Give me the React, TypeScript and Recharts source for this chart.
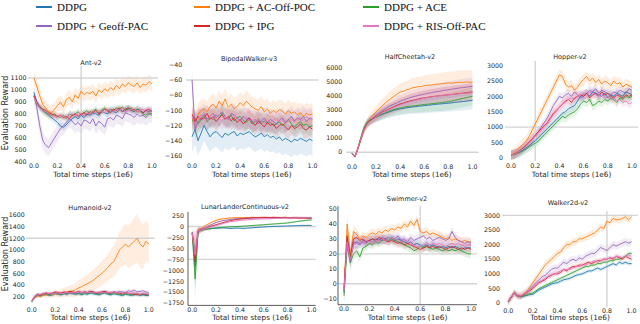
import React from 'react';
import { ComposedChart, Line, Area, XAxis, YAxis, ReferenceLine } from 'recharts';

// ---------- shared categories ----------
const X = [0, 0.025, 0.05, 0.075, 0.1, 0.125, 0.15, 0.175, 0.2, 0.225, 0.25, 0.275, 0.3, 0.325, 0.35, 0.375, 0.4, 0.425, 0.45, 0.475, 0.5, 0.525, 0.55, 0.575, 0.6, 0.625, 0.65, 0.675, 0.7, 0.725, 0.75, 0.775, 0.8, 0.825, 0.85, 0.875, 0.9, 0.925, 0.95, 0.975, 1.0];
const X_TICKS = [0, 0.2, 0.4, 0.6, 0.8, 1.0];
const SERIES = ['DDPG', 'DDPG + AC-Off-POC', 'DDPG + ACE', 'DDPG + Geoff-PAC', 'DDPG + IPG', 'DDPG + RIS-Off-PAC'];
const COLORS = ['#1f77b4', '#ff7f0e', '#2ca02c', '#9467bd', '#d62728', '#e377c2'];
const LEGEND_ORDER = [0, 1, 2, 3, 4, 5];

// ---------- Ant-v2 ----------
const antMeans = [
  [980, 900, 860, 830, 810, 790, 770, 750, 730, 700, 690, 710, 740, 760, 780, 760, 790, 770, 800, 790, 810, 800, 790, 820, 810, 800, 830, 820, 810, 840, 820, 830, 850, 830, 820, 840, 830, 810, 830, 820, 830],
  [1100, 1030, 950, 880, 850, 820, 810, 840, 870, 900, 860, 920, 940, 900, 960, 930, 990, 960, 980, 970, 990, 950, 1000, 980, 1010, 990, 1020, 1000, 1040, 1010, 1050, 1030, 1060, 1040, 1030, 1060, 1020, 1050, 1040, 1070, 1050],
  [950, 880, 850, 830, 810, 800, 790, 800, 780, 770, 790, 760, 800, 790, 800, 820, 790, 810, 830, 800, 820, 840, 810, 830, 850, 820, 840, 830, 850, 840, 860, 830, 840, 850, 820, 840, 830, 800, 790, 810, 800],
  [960, 850, 700, 580, 540, 520, 560, 600, 640, 680, 700, 730, 760, 740, 710, 730, 700, 750, 740, 720, 760, 700, 740, 720, 690, 760, 770, 750, 790, 780, 760, 810, 800, 790, 770, 800, 780, 790, 770, 800, 790],
  [950, 900, 860, 840, 830, 810, 800, 790, 780, 790, 770, 780, 760, 790, 800, 780, 800, 810, 790, 820, 810, 830, 800, 820, 840, 830, 810, 840, 830, 850, 820, 840, 850, 830, 840, 820, 830, 810, 830, 840, 820],
  [940, 890, 850, 830, 820, 800, 790, 780, 770, 790, 780, 770, 790, 800, 780, 810, 800, 790, 810, 800, 820, 810, 830, 820, 810, 840, 830, 820, 840, 830, 850, 820, 830, 840, 830, 820, 830, 840, 820, 810, 830],
];
const antSpread = [30, 60, 30, 70, 25, 25];
const antTicks = [400, 500, 600, 700, 800, 900, 1000, 1100];

// ---------- BipedalWalker-v3 ----------
const bipedalMeans = [
  [-135, -125, -140, -130, -120, -128, -135, -130, -128, -132, -136, -130, -133, -130, -128, -134, -130, -132, -130, -128, -132, -135, -133, -130, -135, -132, -136, -134, -138, -135, -140, -137, -139, -142, -138, -140, -137, -139, -141, -138, -140],
  [-110, -120, -105, -100, -98, -102, -95, -92, -97, -88, -94, -85, -96, -92, -98, -95, -90, -94, -88, -92, -96, -98, -100, -95, -102, -98, -104, -100, -103, -99, -101, -105, -100, -104, -102, -106, -103, -108, -104, -106, -105],
  [-115, -110, -118, -112, -108, -115, -110, -112, -106, -110, -104, -108, -112, -106, -114, -110, -108, -113, -116, -112, -118, -115, -112, -117, -114, -118, -116, -120, -118, -115, -120, -117, -112, -118, -122, -118, -115, -120, -118, -122, -120],
  [-60, -125, -115, -110, -105, -112, -108, -104, -110, -106, -102, -108, -112, -104, -106, -110, -114, -108, -112, -110, -115, -112, -118, -114, -110, -116, -112, -115, -118, -113, -110, -116, -112, -108, -114, -110, -112, -108, -115, -110, -112],
  [-105, -115, -108, -112, -110, -104, -112, -108, -115, -110, -106, -112, -108, -114, -110, -116, -112, -118, -114, -110, -116, -120, -114, -118, -122, -116, -120, -118, -124, -120, -118, -122, -126, -120, -124, -122, -118, -124, -126, -122, -125],
  [-108, -118, -112, -106, -110, -114, -108, -112, -106, -110, -114, -108, -112, -110, -106, -112, -115, -110, -108, -114, -112, -116, -110, -114, -118, -112, -116, -114, -110, -116, -112, -118, -114, -112, -116, -110, -114, -112, -108, -112, -110],
];
const bipedalSpread = [20, 14, 12, 14, 12, 12];
const bipedalTicks = [-160, -140, -120, -100, -80, -60, -40];

// ---------- HalfCheetah-v2 ----------
const cheetahMeans = [
  [-100, -320, 300, 1000, 1650, 2050, 2250, 2400, 2500, 2600, 2700, 2780, 2850, 2920, 3000, 3050, 3100, 3130, 3170, 3200, 3230, 3250, 3280, 3300, 3320, 3350, 3370, 3400, 3420, 3440, 3460, 3480, 3500, 3520, 3550, 3580, 3600, 3620, 3650, 3680, 3700],
  [-100, -320, 250, 950, 1600, 2000, 2400, 2650, 2900, 3100, 3300, 3500, 3700, 3850, 4000, 4150, 4300, 4350, 4450, 4500, 4600, 4620, 4680, 4700, 4750, 4780, 4800, 4820, 4850, 4870, 4900, 4920, 4950, 4930, 4960, 4980, 5000, 4980, 5020, 5000, 5000],
  [-100, -320, 350, 1100, 1800, 2150, 2300, 2400, 2500, 2600, 2700, 2800, 2900, 2980, 3050, 3100, 3150, 3200, 3250, 3280, 3300, 3320, 3350, 3380, 3400, 3430, 3450, 3480, 3500, 3530, 3550, 3580, 3600, 3650, 3700, 3750, 3800, 3850, 3900, 3950, 4000],
  [-100, -320, 300, 1000, 1600, 2000, 2250, 2450, 2650, 2800, 2950, 3100, 3250, 3350, 3450, 3550, 3650, 3720, 3800, 3870, 3950, 4000, 4050, 4100, 4150, 4200, 4230, 4280, 4320, 4350, 4400, 4430, 4460, 4500, 4530, 4560, 4600, 4620, 4650, 4680, 4700],
  [-100, -320, 300, 1000, 1650, 2050, 2250, 2400, 2550, 2700, 2850, 2950, 3050, 3150, 3250, 3350, 3450, 3500, 3580, 3650, 3700, 3750, 3800, 3850, 3880, 3920, 3950, 3980, 4000, 4030, 4050, 4080, 4100, 4120, 4150, 4180, 4200, 4220, 4250, 4280, 4300],
  [-100, -320, 300, 1000, 1600, 2000, 2200, 2350, 2500, 2650, 2800, 2900, 3000, 3100, 3200, 3300, 3380, 3450, 3520, 3600, 3650, 3700, 3750, 3800, 3850, 3900, 3930, 3970, 4000, 4030, 4050, 4080, 4100, 4120, 4140, 4160, 4180, 4200, 4220, 4230, 4250],
];
const cheetahSpreadWide = [50, 100, 150, 250, 300, 350, 400, 420, 450, 480, 500, 520, 540, 560, 580, 600, 620, 640, 660, 680, 700, 710, 720, 730, 740, 750, 760, 770, 780, 790, 800, 800, 810, 820, 830, 840, 850, 850, 860, 860, 870];
const cheetahSpread = [50, 100, 150, 200, 250, 280, 300, 320, 340, 360, 380, 400, 410, 420, 430, 440, 450, 460, 470, 480, 490, 500, 510, 520, 530, 540, 550, 560, 570, 580, 590, 600, 600, 610, 610, 620, 620, 630, 630, 640, 640];
const cheetahTicks = [0, 1000, 2000, 3000, 4000, 5000, 6000];

// ---------- Hopper-v2 ----------
const hopperMeans = [
  [100, 110, 150, 200, 260, 330, 400, 480, 560, 650, 750, 850, 950, 1050, 1150, 1250, 1350, 1450, 1500, 1600, 1650, 1700, 1850, 2000, 2050, 2100, 2000, 2150, 2100, 2050, 2000, 2100, 1950, 2050, 2000, 2100, 2050, 2000, 2150, 2100, 2050],
  [100, 150, 250, 350, 450, 550, 700, 900, 1100, 1300, 1500, 1700, 1900, 2100, 2300, 2500, 2700, 2650, 2400, 2300, 2350, 2200, 2300, 2450, 2550, 2650, 2500, 2600, 2450, 2550, 2400, 2500, 2450, 2350, 2500, 2400, 2450, 2300, 2400, 2350, 2300],
  [100, 100, 140, 180, 230, 290, 350, 420, 480, 550, 650, 750, 850, 950, 1050, 1150, 1250, 1350, 1300, 1400, 1450, 1500, 1600, 1750, 1850, 1800, 1900, 1700, 1750, 1850, 1800, 1900, 1850, 1950, 1900, 1800, 1950, 1900, 2000, 1950, 2000],
  [100, 120, 180, 250, 320, 400, 500, 600, 700, 850, 1000, 1150, 1300, 1500, 1700, 1850, 2000, 1950, 2050, 2100, 2000, 2150, 2050, 1950, 2000, 2100, 2200, 2150, 2250, 2100, 2200, 2150, 2100, 2050, 2150, 2100, 2200, 2150, 2100, 2250, 2200],
  [100, 120, 170, 240, 320, 420, 520, 620, 750, 850, 950, 1050, 1150, 1300, 1450, 1550, 1650, 1750, 1850, 1900, 1800, 1950, 2000, 2050, 2000, 2100, 1950, 2050, 2100, 2000, 2150, 2050, 2100, 2000, 1950, 2050, 2000, 1950, 2050, 2000, 2050],
  [100, 110, 160, 230, 300, 400, 500, 600, 700, 800, 900, 1000, 1100, 1250, 1400, 1500, 1650, 1750, 1800, 1900, 1950, 1900, 2000, 2050, 2100, 2000, 2150, 2100, 2050, 2000, 2100, 1950, 2000, 1900, 1950, 1850, 1900, 1800, 1850, 1750, 1800],
];
const hopperSpread = [150, 180, 150, 150, 150, 150];
const hopperTicks = [0, 500, 1000, 1500, 2000, 2500, 3000];

// ---------- Humanoid-v2 ----------
const humanoidMeans = [
  [120, 190, 220, 210, 230, 240, 220, 230, 250, 240, 230, 250, 240, 260, 250, 240, 250, 230, 250, 240, 260, 250, 240, 230, 250, 260, 240, 230, 250, 240, 230, 220, 240, 230, 220, 230, 240, 220, 230, 220, 220],
  [120, 180, 210, 200, 230, 220, 240, 230, 250, 240, 260, 270, 280, 290, 300, 320, 350, 370, 400, 420, 450, 480, 520, 560, 600, 650, 700, 760, 800, 900, 1000, 1050, 1100, 1050, 1100, 1150, 1200, 1100, 1050, 1150, 1100],
  [110, 200, 230, 220, 240, 250, 230, 240, 260, 250, 240, 260, 250, 270, 260, 250, 260, 240, 260, 250, 270, 260, 250, 240, 260, 270, 250, 240, 260, 250, 240, 230, 250, 240, 230, 240, 250, 230, 240, 230, 230],
  [120, 200, 240, 230, 250, 260, 240, 250, 270, 260, 250, 270, 260, 280, 270, 260, 280, 260, 280, 270, 290, 280, 270, 260, 280, 290, 270, 260, 280, 270, 290, 280, 270, 300, 290, 310, 280, 290, 300, 280, 270],
  [130, 210, 240, 230, 250, 260, 250, 260, 280, 270, 260, 280, 270, 290, 280, 270, 290, 270, 280, 270, 290, 280, 260, 270, 280, 290, 270, 260, 280, 270, 260, 250, 270, 260, 250, 240, 230, 240, 250, 240, 230],
  [120, 210, 230, 240, 250, 240, 260, 250, 260, 270, 250, 260, 270, 260, 270, 260, 280, 270, 260, 270, 280, 260, 270, 280, 270, 260, 270, 280, 260, 270, 280, 260, 270, 250, 260, 270, 250, 240, 260, 250, 240],
];
const humanoidOrangeSpread = [10, 20, 30, 30, 40, 40, 50, 50, 60, 60, 70, 80, 90, 100, 110, 120, 130, 140, 150, 160, 170, 180, 190, 200, 210, 220, 230, 250, 270, 290, 310, 330, 350, 370, 380, 400, 420, 400, 380, 350, 330];
const humanoidTicks = [200, 400, 600, 800, 1000, 1200, 1400, 1600];

// ---------- LunarLanderContinuous-v2 ----------
const lunarMeans = [
  [-130, -900, -100, -80, -70, -60, -50, -45, -40, -35, -30, -35, -40, -45, -40, -35, -40, -45, -40, -35, -30, -25, -20, -15, -10, -5, -5, 0, 0, 5, 5, 10, 10, 15, 15, 20, 20, 25, 20, 25, 20],
  [-150, -700, -80, -40, 0, 40, 80, 110, 140, 160, 170, 180, 190, 195, 200, 200, 205, 200, 205, 200, 210, 205, 200, 205, 210, 205, 200, 210, 205, 200, 205, 210, 205, 200, 205, 210, 205, 200, 205, 200, 200],
  [-160, -1200, -120, -90, -70, -60, -50, -40, -30, -25, -20, -15, -10, -5, -5, 0, 0, 5, 10, 15, 20, 25, 30, 35, 40, 45, 50, 55, 60, 65, 70, 75, 80, 90, 100, 110, 120, 130, 140, 145, 150],
  [-150, -600, -90, -60, -30, 0, 30, 60, 90, 110, 130, 140, 150, 160, 170, 175, 180, 185, 190, 190, 195, 195, 200, 200, 200, 205, 200, 205, 200, 205, 200, 205, 200, 200, 205, 200, 200, 205, 200, 200, 200],
  [-140, -800, -100, -80, -60, -30, 0, 20, 40, 60, 80, 100, 120, 135, 150, 160, 170, 175, 185, 190, 195, 200, 200, 205, 200, 205, 200, 200, 205, 200, 195, 200, 195, 190, 195, 190, 185, 190, 185, 180, 185],
  [-150, -650, -100, -80, -60, -40, -20, 0, 20, 40, 60, 80, 100, 110, 120, 130, 140, 145, 150, 155, 160, 165, 170, 170, 175, 175, 180, 180, 185, 185, 190, 190, 190, 195, 190, 195, 190, 195, 190, 195, 190],
];
const lunarSpread = [40, 500, 80, 50, 40, 30, 30, 25, 25, 25, 25, 20, 20, 20, 20, 20, 20, 20, 20, 20, 20, 20, 20, 20, 20, 20, 20, 20, 20, 20, 20, 20, 20, 20, 20, 20, 20, 20, 20, 20, 20];
const lunarTicks = [-1750, -1500, -1250, -1000, -750, -500, -250, 0, 250];

// ---------- Swimmer-v2 ----------
const swimmerMeans = [
  [-6, 30, 17, 27, 28, 27, 29, 28, 29, 30, 29, 30, 29, 30, 31, 30, 29, 30, 29, 28, 27, 28, 26, 27, 26, 25, 26, 25, 26, 25, 24, 25, 24, 25, 24, 25, 24, 23, 24, 24, 24],
  [-5, 40, 20, 35, 33, 30, 32, 31, 33, 34, 33, 35, 34, 36, 35, 37, 36, 38, 37, 40, 38, 42, 39, 43, 35, 34, 35, 33, 34, 33, 32, 31, 30, 31, 29, 30, 29, 28, 29, 28, 28],
  [-8, 25, 14, 20, 22, 18, 24, 25, 27, 26, 28, 27, 29, 30, 29, 30, 29, 28, 27, 26, 25, 24, 22, 23, 25, 24, 25, 24, 23, 24, 23, 22, 23, 22, 23, 22, 23, 22, 21, 20, 20],
  [-5, 30, 15, 28, 27, 26, 28, 27, 29, 28, 30, 29, 31, 30, 29, 31, 30, 32, 29, 30, 28, 31, 29, 30, 31, 32, 30, 31, 29, 30, 31, 30, 29, 30, 35, 31, 29, 28, 27, 28, 27],
  [-3, 32, 18, 30, 31, 29, 30, 28, 29, 30, 29, 31, 30, 29, 28, 29, 28, 27, 28, 26, 27, 26, 25, 24, 23, 24, 25, 24, 25, 24, 25, 24, 23, 24, 25, 24, 23, 24, 23, 24, 23],
  [-4, 28, 16, 26, 27, 28, 27, 29, 28, 27, 29, 28, 30, 29, 31, 30, 30, 29, 28, 29, 28, 27, 26, 25, 25, 26, 27, 26, 27, 26, 27, 26, 25, 26, 27, 26, 27, 26, 25, 26, 26],
];
const swimmerSpread = [6, 6, 5, 4, 4, 3, 3, 3, 3, 3, 3, 3, 3, 3, 3, 3, 3, 3, 3, 3, 3, 3, 3, 3, 3, 3, 3, 3, 3, 3, 3, 3, 3, 3, 3, 3, 3, 3, 3, 3, 3];
const swimmerTicks = [-10, 0, 10, 20, 30, 40, 50];

// ---------- Walker2d-v2 ----------
const walkerMeans = [
  [50, 200, 350, 250, 220, 240, 260, 290, 300, 380, 450, 500, 550, 600, 650, 680, 700, 750, 800, 820, 850, 900, 950, 980, 1000, 1050, 1100, 1100, 1150, 1200, 1150, 1200, 1250, 1300, 1350, 1300, 1400, 1350, 1400, 1350, 1350],
  [50, 200, 350, 250, 250, 320, 400, 550, 700, 850, 1000, 1150, 1300, 1400, 1500, 1600, 1700, 1750, 1900, 2000, 2000, 2100, 2100, 2200, 2200, 2250, 2300, 2350, 2400, 2500, 2600, 2550, 2800, 2750, 2900, 2850, 2850, 2900, 2950, 2850, 2950],
  [50, 200, 350, 250, 220, 250, 280, 320, 350, 420, 500, 550, 600, 650, 700, 750, 800, 850, 900, 950, 1000, 1050, 1100, 1150, 1200, 1250, 1250, 1300, 1300, 1350, 1350, 1400, 1400, 1450, 1450, 1500, 1500, 1550, 1600, 1700, 1700],
  [50, 200, 350, 250, 240, 300, 380, 480, 600, 700, 800, 900, 950, 1050, 1150, 1200, 1200, 1300, 1400, 1350, 1450, 1500, 1450, 1550, 1500, 1600, 1650, 1700, 1700, 1800, 1900, 1850, 1800, 1900, 2000, 1950, 2000, 2050, 2100, 2050, 2100],
  [50, 200, 350, 250, 230, 280, 350, 420, 500, 600, 700, 750, 800, 900, 950, 1000, 1000, 1050, 1150, 1100, 1200, 1250, 1250, 1300, 1300, 1350, 1400, 1350, 1400, 1450, 1450, 1500, 1500, 1550, 1500, 1600, 1550, 1500, 1600, 1550, 1500],
  [50, 200, 350, 250, 240, 290, 360, 440, 550, 650, 720, 780, 850, 920, 980, 1000, 1050, 1100, 1150, 1150, 1150, 1200, 1250, 1250, 1300, 1300, 1350, 1400, 1450, 1400, 1450, 1500, 1500, 1550, 1550, 1600, 1600, 1550, 1600, 1650, 1600],
];
const walkerSpread = [70, 130, 70, 130, 80, 80];
const walkerTicks = [0, 500, 1000, 1500, 2000, 2500, 3000];

// ---------- layout (positions/styles only) ----------
type Spread = number | number[];
interface PanelCfg {
  title: string;
  means: number[][];
  spreads: Spread[];
  yTicks: number[];
  xDomain: [number, number];
  yDomain: [number, number];
  left: number; right: number; top: number; bottom: number;
  refH: number[]; refV: number[];
  spines?: boolean;
  yGap: number;
  xTickCenter: number;
  titleX: number; titleY: number;
  xLabelY: number;
}

const ROW1_XT = 166.5, ROW1_XL = 175;
const ROW2_XT = 309.5, ROW2_XL = 318.2;

const PANELS: PanelCfg[] = [
  { title: 'Ant-v2', means: antMeans, spreads: antSpread, yTicks: antTicks, xDomain: [-0.05, 1.05], yDomain: [380, 1200],
    left: 28.1, right: 157.9, top: 66.3, bottom: 164.7, refH: [1100], refV: [0.4], yGap: 1.4, xTickCenter: ROW1_XT, titleX: 91, titleY: 63, xLabelY: ROW1_XL },
  { title: 'BipedalWalker-v3', means: bipedalMeans, spreads: bipedalSpread, yTicks: bipedalTicks, xDomain: [-0.05, 1.05], yDomain: [-165, -35],
    left: 185.5, right: 318, top: 61.2, bottom: 159.8, refH: [-60], refV: [], yGap: 3.8, xTickCenter: ROW1_XT, titleX: 249, titleY: 58.5, xLabelY: ROW1_XL },
  { title: 'HalfCheetah-v2', means: cheetahMeans, spreads: [cheetahSpread, cheetahSpreadWide, cheetahSpread, cheetahSpread, cheetahSpread, cheetahSpread], yTicks: cheetahTicks, xDomain: [-0.05, 1.05], yDomain: [-500, 6300],
    left: 345.5, right: 478, top: 64.1, bottom: 159.3, refH: [0], refV: [], yGap: 3.8, xTickCenter: ROW1_XT, titleX: 410, titleY: 57, xLabelY: ROW1_XL },
  { title: 'Hopper-v2', means: hopperMeans, spreads: hopperSpread, yTicks: hopperTicks, xDomain: [-0.05, 1.05], yDomain: [-100, 3150],
    left: 505, right: 638, top: 61.4, bottom: 161.4, refH: [1000], refV: [0.2], yGap: 2, xTickCenter: ROW1_XT, titleX: 570, titleY: 57, xLabelY: ROW1_XL },
  { title: 'Humanoid-v2', means: humanoidMeans, spreads: [30, humanoidOrangeSpread, 30, 30, 30, 30], yTicks: humanoidTicks, xDomain: [-0.05, 1.05], yDomain: [50, 1650],
    left: 26.15, right: 154.85, top: 212.1, bottom: 305.5, refH: [1200], refV: [], yGap: 1.2, xTickCenter: ROW2_XT, titleX: 90, titleY: 207.5, xLabelY: ROW2_XL },
  { title: 'LunarLanderContinuous-v2', means: lunarMeans, spreads: [lunarSpread, lunarSpread, lunarSpread, lunarSpread, lunarSpread, lunarSpread], yTicks: lunarTicks, xDomain: [-0.035, 1.035], yDomain: [-1800, 330],
    left: 188.1, right: 315.9, top: 211.5, bottom: 304.9, refH: [0, -750], refV: [], spines: true, yGap: 4.1, xTickCenter: ROW2_XT, titleX: 245, titleY: 206.5, xLabelY: ROW2_XL },
  { title: 'Swimmer-v2', means: swimmerMeans, spreads: [swimmerSpread, swimmerSpread, swimmerSpread, swimmerSpread, swimmerSpread, swimmerSpread], yTicks: swimmerTicks, xDomain: [-0.047, 1.047], yDomain: [-14, 52],
    left: 338, right: 477, top: 206.3, bottom: 305, refH: [20, 0], refV: [0.6], spines: true, yGap: 1.3, xTickCenter: ROW2_XT, titleX: 407, titleY: 199, xLabelY: ROW2_XL },
  { title: 'Walker2d-v2', means: walkerMeans, spreads: walkerSpread, yTicks: walkerTicks, xDomain: [-0.05, 1.05], yDomain: [-150, 3150],
    left: 502.1, right: 637.9, top: 210.6, bottom: 307.1, refH: [3000], refV: [0.8], yGap: 2.1, xTickCenter: ROW2_XT + 0.5, titleX: 568, titleY: 202.5, xLabelY: ROW2_XL },
];

const TICK_FONT = 6.3;
const fmtY = (v: number) => (v < 0 ? '\u2212' + Math.abs(v) : String(v));
const fmtX = (v: number) => v.toFixed(1);

function Txt({ x, y, children, size, rotate, family }: { x: number; y: number; children: React.ReactNode; size: number; rotate?: number; family?: string }) {
  return (
    <div
      style={{
        position: 'absolute', left: x, top: y, whiteSpace: 'nowrap', fontSize: size, lineHeight: 1,
        fontFamily: family || 'DejaVu Sans', color: '#262626',
        transform: `translate(-50%, -50%)${rotate ? ` rotate(${rotate}deg)` : ''}`,
      }}
    >
      {children}
    </div>
  );
}

function Panel({ p }: { p: PanelCfg }) {
  const YW = 36, MT = 6, MR = 8, XH = 24;
  const plotW = p.right - p.left;
  const plotH = p.bottom - p.top;
  const rows = X.map((x, i) => {
    const r: Record<string, any> = { x };
    p.means.forEach((m, k) => {
      const s = p.spreads[k];
      const sd = typeof s === 'number' ? s : s[i];
      r['m' + k] = m[i];
      r['b' + k] = [m[i] - sd, m[i] + sd];
    });
    return r;
  });
  const spine = p.spines ? { stroke: '#333', strokeWidth: 0.8 } : false;
  const tickStyle = { fontSize: TICK_FONT, fill: '#262626', fontFamily: 'DejaVu Sans' };
  const xMargin = p.xTickCenter - TICK_FONT * 0.36 - p.bottom;
  return (
    <>
      <div style={{ position: 'absolute', left: p.left - YW, top: p.top - MT }}>
        <ComposedChart width={YW + plotW + MR} height={MT + plotH + XH} data={rows} margin={{ top: MT, right: MR, bottom: 0, left: 0 }}>
          <XAxis type="number" dataKey="x" domain={p.xDomain} ticks={X_TICKS} interval={0} tickFormatter={fmtX} allowDataOverflow
            axisLine={spine as any} tickLine={false} tickSize={0} tickMargin={xMargin} height={XH} tick={tickStyle} />
          <YAxis type="number" domain={p.yDomain} ticks={p.yTicks} interval={0} tickFormatter={fmtY} allowDataOverflow
            axisLine={spine as any} tickLine={false} tickSize={0} tickMargin={p.yGap} width={YW} tick={tickStyle} />
          {p.refH.map((v) => (
            <ReferenceLine key={'h' + v} y={v} stroke="#d4d4d4" strokeWidth={1.4} />
          ))}
          {p.refV.map((v) => (
            <ReferenceLine key={'v' + v} x={v} stroke="#d4d4d4" strokeWidth={1.4} />
          ))}
          {p.means.map((_, k) => (
            <Area key={'a' + k} type="linear" dataKey={'b' + k} stroke="none" fill={COLORS[k]} fillOpacity={0.13}
              isAnimationActive={false} dot={false} activeDot={false} />
          ))}
          {p.means.map((_, k) => (
            <Line key={'l' + k} type="linear" dataKey={'m' + k} stroke={COLORS[k]} strokeWidth={0.9}
              isAnimationActive={false} dot={false} activeDot={false} />
          ))}
        </ComposedChart>
      </div>
      <Txt x={p.titleX} y={p.titleY} size={6.5}>{p.title}</Txt>
      <Txt x={(p.left + p.right) / 2} y={p.xLabelY} size={7.3}>Total time steps (1e6)</Txt>
    </>
  );
}

const LEGEND_COL_X = [36, 194, 363];
const LEGEND_ROW_Y = [7, 26];

export default function App() {
  return (
    <div style={{ position: 'absolute', left: 0, top: 0, width: 640, height: 324, background: '#fff', overflow: 'hidden' }}>
      {LEGEND_ORDER.map((k, idx) => {
        const cx = LEGEND_COL_X[idx % 3];
        const cy = LEGEND_ROW_Y[Math.floor(idx / 3)];
        return (
          <React.Fragment key={k}>
            <div style={{ position: 'absolute', left: cx, top: cy - 1.4, width: 16, height: 2.8, background: COLORS[k] }} />
            <div style={{ position: 'absolute', left: cx + 21, top: cy, transform: 'translateY(-50%)', fontFamily: 'Liberation Serif', fontSize: 11, lineHeight: 1, whiteSpace: 'nowrap', color: '#111' }}>
              {SERIES[k]}
            </div>
          </React.Fragment>
        );
      })}
      {PANELS.map((p) => (
        <Panel key={p.title} p={p} />
      ))}
      <Txt x={6} y={113} size={8} rotate={-90}>Evaluation Reward</Txt>
      <Txt x={6} y={254} size={8} rotate={-90}>Evaluation Reward</Txt>
    </div>
  );
}
